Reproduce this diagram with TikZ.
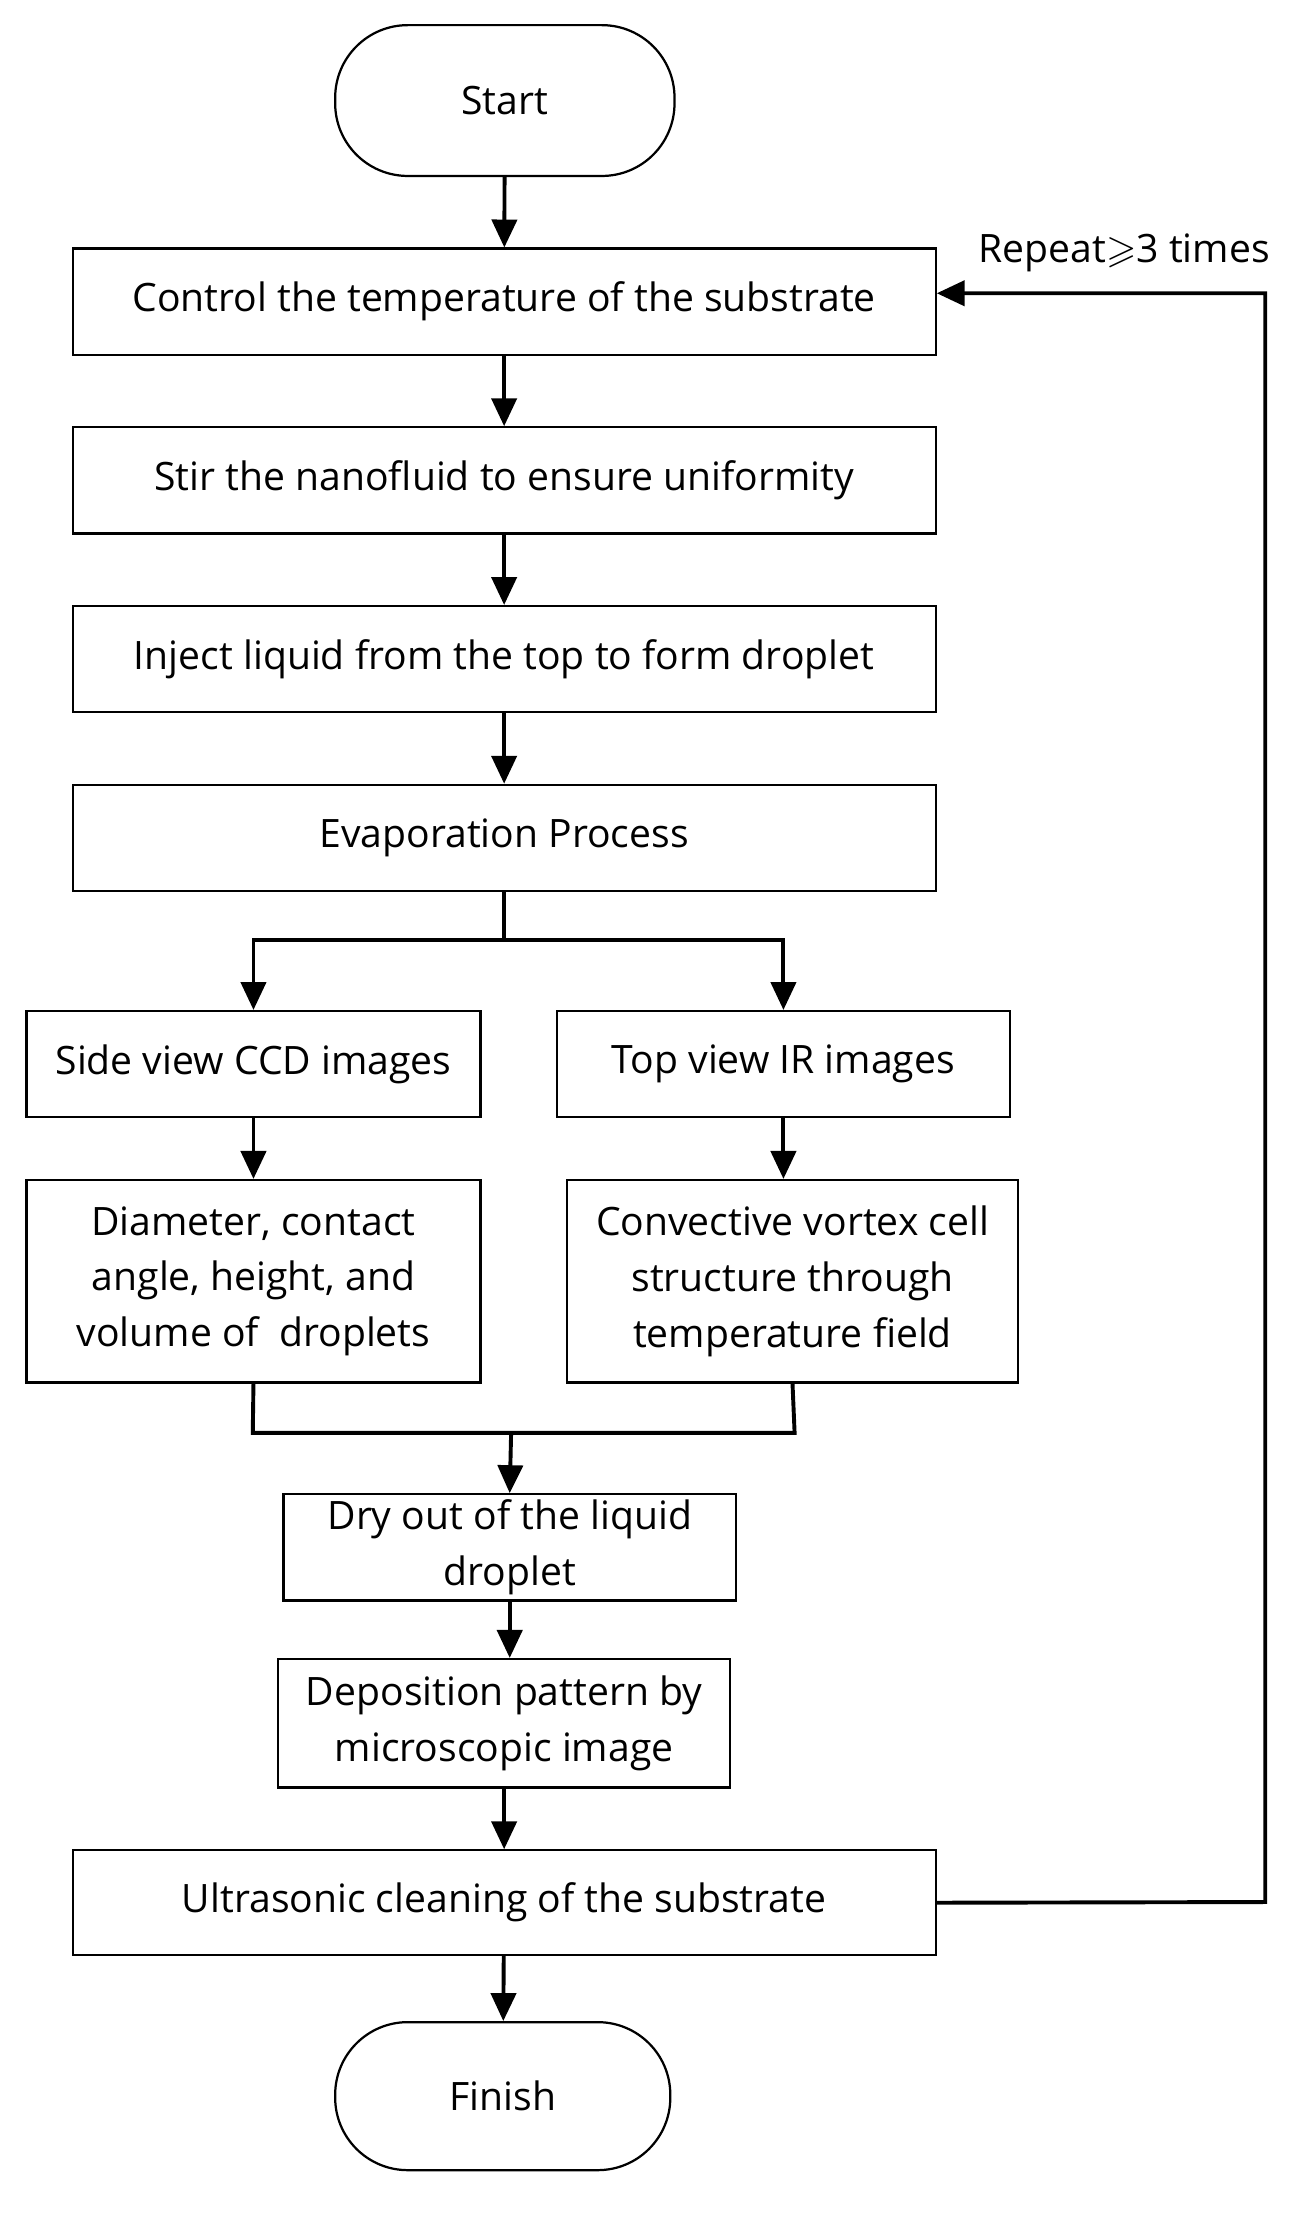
\documentclass[tikz,border=0pt]{standalone}
\usepackage{amssymb}
\usepackage{fontspec}
\setmainfont{Open Sans}
\usetikzlibrary{arrows.meta}
\begin{document}
\begin{tikzpicture}[x=0.5pt,y=-0.5pt,
  box/.style={draw,line width=0.8pt,inner sep=0pt,align=center,font=\fontsize{14}{20}\selectfont},
  term/.style={box,rounded corners=26pt},
  ln/.style={line width=1.4pt},
  arr/.style={ln,-{Triangle[length=10pt,width=9pt]}}]
\useasboundingbox (0,0) rectangle (940,1594);
\fill[white] (0,0) rectangle (940,1594);
\node[term,minimum width=121.5pt,minimum height=54pt] (start) at (361.5,72) {Start};
\node[box,minimum width=309pt,minimum height=38pt] (b1) at (361,216) {Control the temperature of the substrate};
\node[box,minimum width=309pt,minimum height=38pt] (b2) at (361,344) {Stir the nanofluid to ensure uniformity};
\node[box,minimum width=309pt,minimum height=38pt] (b3) at (361,472) {Inject liquid from the top to form droplet};
\node[box,minimum width=309pt,minimum height=38pt] (b4) at (361,600) {Evaporation Process};
\node[box,minimum width=162.5pt,minimum height=38pt] (side) at (181.5,762) {Side view CCD images};
\node[box,minimum width=162pt,minimum height=38pt] (top) at (561,762) {Top view IR images};
\node[box,minimum width=162.5pt,minimum height=72.5pt] (diam) at (181.5,917.5) {Diameter, contact\\angle, height, and\\volume of\ \ droplets};
\node[box,minimum width=161.5pt,minimum height=72.5pt] (conv) at (567.5,917.5) {Convective vortex cell\\structure through\\temperature field};
\node[box,minimum width=162pt,minimum height=38pt] (dry) at (365,1108) {Dry out of the liquid\\droplet};
\node[box,minimum width=162pt,minimum height=46pt] (dep) at (361,1234) {Deposition pattern by\\microscopic image};
\node[box,minimum width=309pt,minimum height=37.5pt] (ult) at (361,1362.5) {Ultrasonic cleaning of the substrate};
\node[term,minimum width=120pt,minimum height=53pt] (fin) at (360,1501) {Finish};
\draw[arr] (start) -- (b1);
\draw[arr] (b1) -- (b2);
\draw[arr] (b2) -- (b3);
\draw[arr] (b3) -- (b4);
\coordinate (sp) at (361,673);
\draw[ln] (b4.south) -- (sp);
\draw[arr] (sp) -| (side.north);
\draw[arr] (sp) -| (top.north);
\draw[arr] (side) -- (diam.north -| side);
\draw[arr] (top) -- (conv.north -| top);
\coordinate (mg) at (366,1026);
\draw[ln] (diam.south) -- (181,1026) -- (569,1026) -- (conv.south);
\draw[arr] (mg) -- (dry.north);
\draw[arr] (dry.south) -- (dep.north -| dry.south);
\draw[arr] (dep) -- (ult);
\draw[arr] (ult) -- (fin);
\draw[arr] (ult.east) -- (906,1362) -- (906,210) -- (b1.east |- 0,210);
\node[font=\fontsize{14}{16}\selectfont,anchor=center] (rep) at (805,181) {Repeat$\geqslant$3 times};
\end{tikzpicture}
\end{document}
